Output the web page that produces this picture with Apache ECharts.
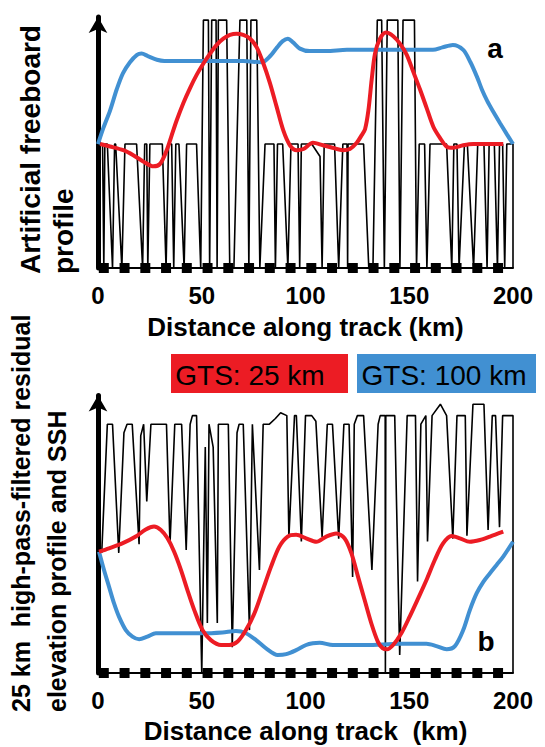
<!DOCTYPE html>
<html>
<head>
<meta charset="utf-8">
<script src="https://cdn.jsdelivr.net/npm/echarts@6/dist/echarts.min.js"></script>
<style>
  html, body { margin: 0; padding: 0; background: #ffffff; }
  #chart { width: 545px; height: 747px; }
</style>
</head>
<body>
<div id="chart"></div>
<script>
// Distance ticks along the track (km)
const distanceTicks = [0, 50, 100, 150, 200];

// Sample positions marked on the track (km)
const sampleKm = [2.8, 12.8, 22.8, 32.8, 42.8, 52.8, 62.8, 72.8, 82.8, 92.8,
                  102.8, 112.8, 122.8, 132.8, 142.8, 152.8, 162.8, 172.8, 182.8, 192.8];

// (a) artificial freeboard profile: [km, level] (0 lead, 1 level ice, 2 thick ice)
const freeboardProfile = [
  [0,1],[2.2,1],[2.8,0],[3.3,1],[4.5,1],[7,0],[8,1],[8.5,1],[11.5,0],[13,1],[18.6,1],[21.5,0],
  [22.5,1],[23.5,1],[24,0],[25,1],[31,1],[32.8,0],[34,1],[35.5,1],[36.5,0],[37.5,1],[39,1],
  [41.5,0],[42.7,1],[47.5,1],[49.5,0],[50.8,2],[53.2,2],[53.8,0],[54.8,2],[56.9,2],[57.4,0],
  [58,2],[62,2],[63.5,0],[65.5,0],[68.4,2],[71.7,2],[72.7,0],[73.7,2],[76.5,2],[78,0],[80.5,1],
  [84.8,1],[85.5,0],[86.5,1],[89,1],[91.5,0],[93,1],[96.4,1],[97.2,0],[98,1],[103,1],[107,0.9],
  [108,0],[109,1],[114,1],[116,0],[118,1],[120,1],[120.3,0],[120.5,1],[128,1],[130.5,0],
  [132.5,0],[134.6,2],[136.7,2],[138,0],[139.4,2],[144.5,2],[145.5,0],[147,2],[152.5,2],
  [153.5,0],[154.8,1],[157.4,1],[158.5,0],[160,1],[168,1],[170.5,0],[171.5,1],[173,1],[174,0],
  [176.6,1],[178,1],[181,0],[183,1],[186,1],[187.5,0],[188.5,1],[191,1],[192.5,0],[193.5,1],
  [195,1],[196,0],[197,1],[200,1],[200,0]
];

// (a) GTS-filtered freeboard, 25 km window
const freeboardGts25 = [
  [1,1.0],[5.8,0.98],[12.2,0.95],[17,0.91],[21.8,0.86],[26.7,0.82],[29.9,0.84],[33.1,0.95],
  [35.5,1.07],[37.9,1.19],[41.1,1.33],[44.3,1.45],[47.6,1.56],[50.8,1.65],[54,1.73],[57.2,1.8],
  [60.4,1.85],[63.6,1.88],[66.8,1.89],[70,1.88],[73.3,1.85],[76.5,1.78],[79.7,1.65],[82.9,1.49],
  [86.1,1.3],[89.3,1.11],[92.5,0.99],[95.8,0.95],[99,0.96],[103.6,1.01],[108.4,0.99],[113,0.97],
  [118,0.95],[121.4,0.96],[124.7,1.01],[127,1.07],[128.7,1.12],[130.3,1.27],[131.9,1.52],
  [133.5,1.73],[135.9,1.85],[138.8,1.9],[142.3,1.87],[145.5,1.81],[148.8,1.72],[152,1.58],
  [155.2,1.44],[158.4,1.29],[161.6,1.14],[164.8,1.05],[168,0.98],[171.2,0.97],[176,0.99],
  [180.9,1.0],[188,1.0],[195.3,1.0]
];

// (a) GTS-filtered freeboard, 100 km window
const freeboardGts100 = [
  [0,1.0],[2.6,1.13],[5.8,1.27],[9,1.44],[12,1.57],[15.4,1.66],[18.8,1.72],[21,1.73],[24,1.71],
  [28.4,1.68],[32,1.67],[40,1.67],[50,1.67],[60,1.67],[70,1.67],[79,1.66],[83,1.71],[86.3,1.78],
  [89,1.83],[91.5,1.85],[94,1.82],[97.3,1.77],[102,1.75],[110,1.75],[120,1.76],[130,1.76],
  [140,1.76],[150,1.76],[161.4,1.76],[166,1.78],[171,1.8],[176,1.76],[179.5,1.66],[182.7,1.54],
  [185,1.44],[187.5,1.35],[190.5,1.26],[193.7,1.17],[197,1.08],[200,1.0]
];

// (b) 25 km high-pass-filtered residual elevation profile
const residualProfile = [
  [1.8,42],[4.5,87],[7,87],[10,42],[12.5,84],[14,87],[16.5,87],[19.8,45],[20.6,83],[22,87],
  [23.5,60],[25.5,87],[33,87],[34.7,45],[37,87],[40.3,87],[42.5,43],[44.4,87],[45.5,90],
  [47.5,90],[50,0],[51.7,79],[52.7,17.5],[53.5,87],[55.5,79],[57.5,17.5],[58,87],[62.8,87],
  [64.7,9],[67,84],[68,87],[70,87],[73,15],[74.4,87],[77.8,36],[79.6,87],[82.6,87],[85.5,89],
  [88,91],[91,90],[92,47.5],[94.7,90],[95.6,90],[98,46],[100,90],[103,90],[105,88],[108,47.6],
  [110.5,87],[113,87],[116,47],[118.5,87],[121,87],[122.7,33.6],[123.5,87],[125,90],[128,90],
  [132,36],[135,87],[136,90],[138.4,90],[138.5,0],[138.7,90],[143,90],[145.4,6.3],[149,90],
  [153,90],[154,32],[155.6,87],[158,90],[158.8,46],[161,90],[165,94],[168,90],[171,47],[173,90],
  [177,90],[177.8,48],[180.7,94],[186,94],[188,50],[190,90],[191.6,90],[193.5,51],[195,90],
  [200,90],[200,0]
];

// (b) sea surface height, 25 km window
const sshGts25 = [
  [0.5,42.4],[5.3,43.6],[11.7,45.3],[18.2,47.7],[23,50.2],[27,51.2],[30.3,50],[33.5,47.1],
  [36.7,42.4],[40,36],[43.1,29],[46.4,22],[50.4,15],[54.4,11.5],[59.3,9.8],[63.3,9.8],[67.3,11],
  [71.3,15],[75.4,20.9],[79.4,29],[83.4,37.2],[87.4,44.2],[91.4,47.7],[95.5,48.3],[100.3,47.1],
  [105.2,45.9],[110,47.7],[114.8,48.8],[118.8,47.1],[122.1,41.9],[125.3,33.7],[128.5,25.5],
  [131.7,17.4],[134.9,10.9],[137.3,8.6],[139.3,8.3],[142.2,9.8],[146.2,13.9],[150.2,19.7],
  [154.3,26.1],[158.3,32.5],[162.3,39.5],[166.3,45.3],[170.4,47.9],[174.4,47.1],[179.2,45.9],
  [184,46.5],[188.9,47.7],[195.3,49.4]
];

// (b) sea surface height, 100 km window
const sshGts100 = [
  [0.5,42.4],[2.9,36],[5.3,30.2],[7.7,24.4],[10.1,19.7],[13.4,15],[16.6,12.7],[19.8,11.8],
  [23.8,12.7],[27.9,13.9],[35.9,13.9],[50.4,13.9],[60,14.2],[66.5,14.7],[71.3,13.9],[76.2,11.5],
  [81,8.6],[86.6,6.3],[90.7,6.6],[95.5,8],[100.3,9.8],[103.5,10.4],[106.8,10.6],[113.2,9.8],
  [129.3,9.8],[145.4,10.2],[158.3,10.2],[163.1,9.4],[168,8.3],[172,9.4],[176,15],[179.2,22],
  [182.5,27.9],[185.7,31.9],[188.9,34.9],[192.1,37.8],[195.3,40.7],[200,45.9]
];

const RED = '#ec1c24';
const BLUE = '#4190d2';
const FONT = '"Liberation Sans", Arial, sans-serif';

function xAxisFor(gridIndex, nameGap, name) {
  return {
    gridIndex, type: 'value', min: 0, max: 200, interval: 50,
    name, nameLocation: 'middle', nameGap,
    nameTextStyle: { fontFamily: FONT, fontWeight: 'bold', fontSize: 26, color: '#000' },
    axisLine: { show: true, onZero: false, lineStyle: { color: '#000', width: 2 } },
    axisTick: { show: false },
    splitLine: { show: false },
    axisLabel: {
      margin: 15, fontFamily: FONT, fontWeight: 'bold', fontSize: 24, color: '#000',
      formatter: v => distanceTicks.includes(v) ? String(v) : ''
    }
  };
}

function yAxisFor(gridIndex, max) {
  return {
    gridIndex, type: 'value', min: 0, max,
    axisLine: { show: true, onZero: false, symbol: ['none', 'arrow'], symbolSize: [14, 16],
                lineStyle: { color: '#000', width: 5 } },
    axisTick: { show: false },
    axisLabel: { show: false },
    splitLine: { show: false }
  };
}

const markers = (xi, yi) => ({
  type: 'scatter', xAxisIndex: xi, yAxisIndex: yi, symbol: 'rect', symbolSize: 10,
  itemStyle: { color: '#000', opacity: 1 }, z: 5, silent: true, clip: false,
  data: sampleKm.map(k => [k, 0])
});

const thin = (xi, yi, data) => ({
  type: 'line', xAxisIndex: xi, yAxisIndex: yi, data, symbol: 'none',
  lineStyle: { color: '#000', width: 1.6 }, z: 2, silent: true, clip: false
});

const smooth = (xi, yi, data, color, name) => ({
  type: 'line', name, xAxisIndex: xi, yAxisIndex: yi, data, symbol: 'none',
  smooth: 0.3,
  lineStyle: { color, width: 4 }, z: 4, silent: true
});

const chart = echarts.init(document.getElementById('chart'), null, { renderer: 'svg' });

chart.setOption({
  animation: false,
  backgroundColor: '#fff',
  grid: [
    { left: 98, right: 32, top: 17, height: 251 },
    { left: 98, right: 32, top: 395.6, height: 277.4 }
  ],
  xAxis: [
    xAxisFor(0, 46, 'Distance along track (km)'),
    xAxisFor(1, 45, 'Distance along track  (km)')
  ],
  yAxis: [yAxisFor(0, 2.025), yAxisFor(1, 97)],
  series: [
    thin(0, 0, freeboardProfile),
    smooth(0, 0, freeboardGts100, BLUE, 'GTS: 100 km'),
    smooth(0, 0, freeboardGts25, RED, 'GTS: 25 km'),
    markers(0, 0),
    thin(1, 1, residualProfile),
    smooth(1, 1, sshGts100, BLUE, 'GTS: 100 km'),
    smooth(1, 1, sshGts25, RED, 'GTS: 25 km'),
    markers(1, 1)
  ],
  graphic: [
    { type: 'text', x: 30, y: 274, rotation: Math.PI / 2,
      style: { text: 'Artificial freeboard', font: 'bold 28px ' + FONT, fill: '#000',
               align: 'left', verticalAlign: 'middle' } },
    { type: 'text', x: 63, y: 274, rotation: Math.PI / 2,
      style: { text: 'profile', font: 'bold 28px ' + FONT, fill: '#000',
               align: 'left', verticalAlign: 'middle' } },
    { type: 'text', x: 21, y: 712, rotation: Math.PI / 2,
      style: { text: '25 km  high-pass-filtered residual', font: 'bold 25px ' + FONT, fill: '#000',
               align: 'left', verticalAlign: 'middle' } },
    { type: 'text', x: 57, y: 712, rotation: Math.PI / 2,
      style: { text: 'elevation profile and SSH', font: 'bold 25px ' + FONT, fill: '#000',
               align: 'left', verticalAlign: 'middle' } },
    { type: 'text', x: 495, y: 48,
      style: { text: 'a', font: 'bold 28px ' + FONT, fill: '#000', align: 'center', verticalAlign: 'middle' } },
    { type: 'text', x: 486, y: 641,
      style: { text: 'b', font: 'bold 28px ' + FONT, fill: '#000', align: 'center', verticalAlign: 'middle' } },
    { type: 'rect', shape: { x: 171, y: 354, width: 177, height: 39 }, style: { fill: RED } },
    { type: 'text', x: 250, y: 375,
      style: { text: 'GTS: 25 km', font: '28px ' + FONT, fill: '#000', align: 'center', verticalAlign: 'middle' } },
    { type: 'rect', shape: { x: 357, y: 354, width: 179, height: 39 }, style: { fill: BLUE } },
    { type: 'text', x: 444, y: 375,
      style: { text: 'GTS: 100 km', font: '28px ' + FONT, fill: '#000', align: 'center', verticalAlign: 'middle' } }
  ]
});
</script>
</body>
</html>
